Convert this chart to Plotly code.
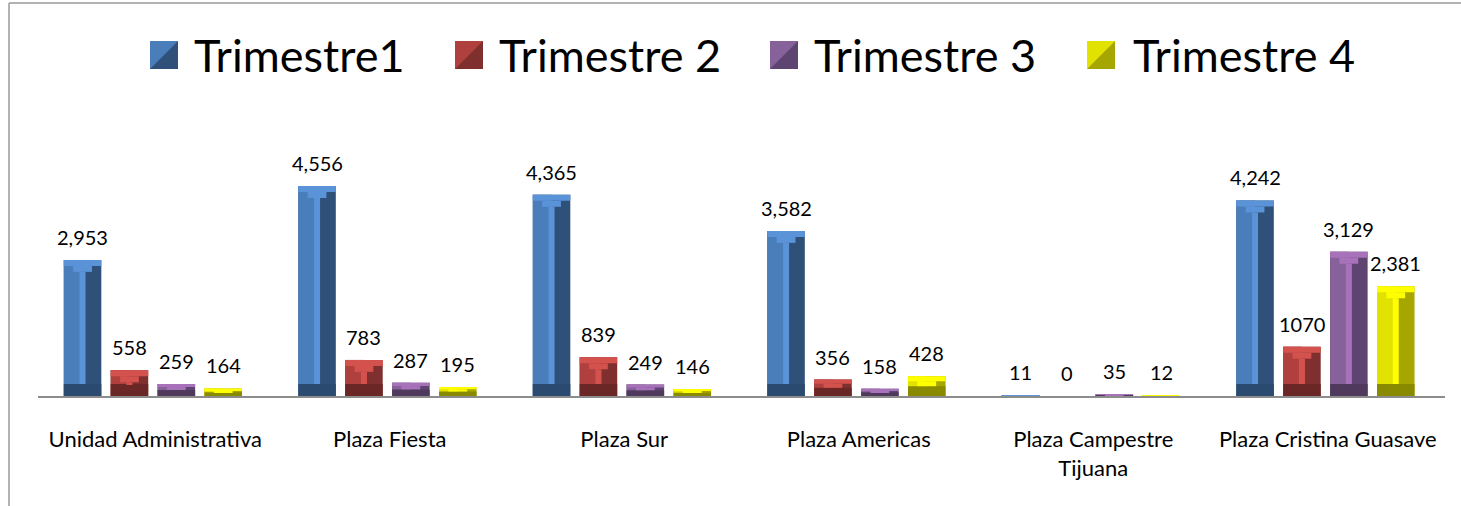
import plotly.graph_objects as go

categories = ["Unidad Administrativa", "Plaza Fiesta", "Plaza Sur", "Plaza Americas",
              "Plaza Campestre<br>Tijuana", "Plaza Cristina Guasave"]
series_names = ["Trimestre1", "Trimestre 2", "Trimestre 3", "Trimestre 4"]
trimestre1 = [2953, 4556, 4365, 3582, 11, 4242]
trimestre2 = [558, 783, 839, 356, 0, 1070]
trimestre3 = [259, 287, 249, 158, 35, 3129]
trimestre4 = [164, 195, 146, 428, 12, 2381]
labels1 = ["2,953", "4,556", "4,365", "3,582", "11", "4,242"]
labels2 = ["558", "783", "839", "356", "0", "1070"]
labels3 = ["259", "287", "249", "158", "35", "3,129"]
labels4 = ["164", "195", "146", "428", "12", "2,381"]

values = [trimestre1, trimestre2, trimestre3, trimestre4]
labels = [labels1, labels2, labels3, labels4]

# colours: (left face, right face, top/stripe light, bottom dark)
palette = [
    ("#4a7ebb", "#2f5078", "#5a93d8", "#2b4a6f"),
    ("#b0403d", "#7f302e", "#d4524e", "#6a2725"),
    ("#86619a", "#5e4470", "#a872bb", "#4f3a5e"),
    ("#e2e200", "#a6a600", "#ffff00", "#8a8a00"),
]

# layout geometry (pixels of the 1461x506 picture)
L, R, T, B = 38, 16, 100, 110
W, H = 1461, 506
plot_w = W - L - R
plot_h = H - T - B
ymax = 6422
bevel = 260  # data units

x = list(range(len(categories)))
bar_w = 0.16
pitch = 0.2
start = -0.39

fig = go.Figure()
for s, (vals, cols) in enumerate(zip(values, palette)):
    off = start + s * pitch
    left, right, light, dark = cols
    b = [min(bevel, v / 2) for v in vals]
    common = dict(x=x, hoverinfo="skip", showlegend=False)
    # right face (full bar)
    fig.add_bar(y=vals, width=bar_w, offset=off, marker=dict(color=right, line=dict(width=0)), **common)
    # left face
    fig.add_bar(y=vals, width=bar_w / 2, offset=off, marker=dict(color=left, line=dict(width=0)), **common)
    # bottom bevel
    fig.add_bar(y=b, width=bar_w, offset=off, marker=dict(color=dark, line=dict(width=0)), **common)
    # top bevel, stepped
    fig.add_bar(y=[bb / 2 for bb in b], base=[v - bb / 2 for v, bb in zip(vals, b)],
                width=bar_w, offset=off, marker=dict(color=light, line=dict(width=0)), **common)
    fig.add_bar(y=[bb / 2 for bb in b], base=[v - bb for v, bb in zip(vals, b)],
                width=bar_w * 0.5, offset=off + bar_w * 0.25, marker=dict(color=light, line=dict(width=0)), **common)
    # centre stripe
    fig.add_bar(y=[max(v - 2 * bb, 0) for v, bb in zip(vals, b)], base=b,
                width=bar_w * 0.16, offset=off + bar_w * 0.42, marker=dict(color=light, line=dict(width=0)), **common)
    # value labels
    for i, (v, t) in enumerate(zip(vals, labels[s])):
        fig.add_annotation(x=i + off + bar_w / 2, y=v, text=t, showarrow=False,
                           yshift=23, yanchor="middle", xanchor="center",
                           font=dict(family="Lato", size=20, color="black"))

def px(xp):
    return (xp - L) / plot_w

def py(yp):
    return (H - B - yp) / plot_h

# custom legend
swatch_x = [150, 455, 770, 1087]
text_x = [192, 497, 812, 1131]
for s, name in enumerate(series_names):
    left, right, light, dark = palette[s]
    x0, x1 = px(swatch_x[s]), px(swatch_x[s] + 28)
    y0, y1 = py(69), py(41)
    fig.add_shape(type="rect", xref="paper", yref="paper", x0=x0, x1=x1, y0=y0, y1=y1,
                  fillcolor=right, line=dict(width=0))
    fig.add_shape(type="path", xref="paper", yref="paper",
                  path=f"M {x0} {y1} L {x1} {y1} L {x0} {y0} Z",
                  fillcolor=left, line=dict(width=0))
    fig.add_annotation(xref="paper", yref="paper", x=px(text_x[s]), y=py(55), text=name,
                       showarrow=False, xanchor="left", yanchor="middle",
                       font=dict(family="Lato", size=45, color="black"))

# chart border (top and left edges visible)
fig.add_shape(type="line", xref="paper", yref="paper", x0=px(9), y0=py(3), x1=px(W + 60), y1=py(3),
              line=dict(color="#9a9a9a", width=1.5), layer="below")
fig.add_shape(type="line", xref="paper", yref="paper", x0=px(9), y0=py(3), x1=px(9), y1=py(H + 60),
              line=dict(color="#9a9a9a", width=1.5), layer="below")

fig.update_layout(
    width=W, height=H,
    margin=dict(l=L, r=R, t=T, b=B),
    barmode="overlay",
    plot_bgcolor="white", paper_bgcolor="white",
    showlegend=False,
    font=dict(family="Lato", size=20, color="black"),
)
fig.update_xaxes(range=[-0.5, len(categories) - 0.5], tickvals=x, ticktext=categories,
                 showline=True, linecolor="#8c8c8c", linewidth=2, showgrid=False,
                 zeroline=False, ticks="", ticklabelstandoff=23,
                 tickfont=dict(family="Lato", size=22, color="black"))
fig.update_yaxes(range=[0, ymax], visible=False, showgrid=False, zeroline=False)

fig.write_html("out.html", config={"displayModeBar": False},
               post_script="document.body.style.margin='0';document.body.style.overflow='hidden';")
